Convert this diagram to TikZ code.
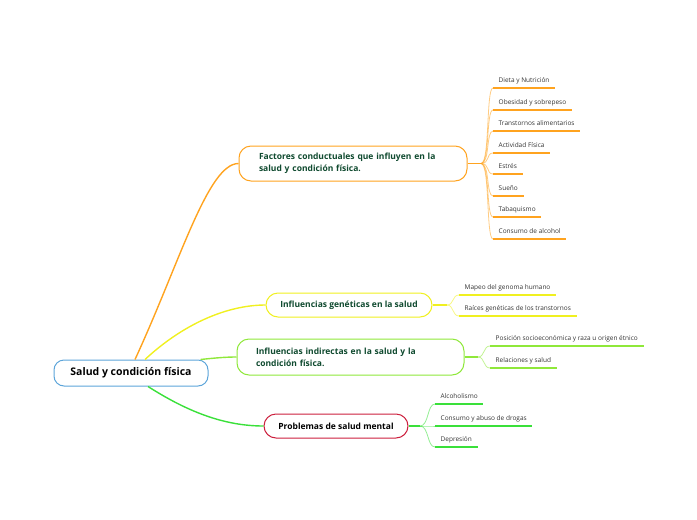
\documentclass[tikz,border=0pt]{standalone}
\usepackage{fontspec}
\setmainfont{Open Sans}
\usetikzlibrary{positioning}
\definecolor{rootblue}{HTML}{5DA5DA}
\definecolor{orangeb}{HTML}{FFA31F}
\definecolor{yellowb}{HTML}{F0F020}
\definecolor{limeb}{HTML}{8FE83A}
\definecolor{greenb}{HTML}{3AE03A}
\definecolor{redb}{HTML}{CC1F3D}
\definecolor{darkteal}{HTML}{0F4A2F}
\definecolor{leafgray}{HTML}{333333}

\begin{document}
\begin{tikzpicture}[x=1pt,y=-1pt,
  topic/.style={draw=#1,fill=white,line width=1pt,rounded corners=12pt,minimum height=24pt,
    font=\fontsize{8.5}{12}\selectfont\bfseries,text=darkteal},
  leaf/.style={anchor=south west,inner xsep=5.5pt,inner ysep=2.5pt,text depth=2.5pt,
    font=\fontsize{6.5}{7}\selectfont,text=leafgray,
    append after command={(\tikzlastnode.south west) edge[draw=#1,line width=1.6pt] (\tikzlastnode.south east)}},
  branch/.style={draw=#1,line width=1.4pt},
  twig/.style={draw=#1,draw opacity=0.55,line width=0.8pt}]
\useasboundingbox (0,0) rectangle (697,520);

% main topics
\node[draw=rootblue,fill=white,line width=1pt,rounded corners=10pt,minimum width=154pt,minimum height=26pt,
  font=\fontsize{10.5}{12}\selectfont\bfseries,text=black] (root) at (131,373) {Salud y condición física};
\node[topic=orangeb,text width=188pt,inner xsep=20pt,minimum height=35pt,align=left] (fac) at (353,163.5)
  {Factores conductuales que influyen en la\\salud y condición física.};
\node[topic=yellowb,minimum width=166pt] (gen) at (349,305) {Influencias genéticas en la salud};
\node[topic=limeb,text width=189pt,inner xsep=19pt,minimum height=36pt,align=left] (ind) at (350.5,357)
  {Influencias indirectas en la salud y la\\condición física.};
\node[topic=redb,minimum width=144pt,text=black] (pro) at (336,426) {Problemas de salud mental};

% branches from the root
\draw[branch=orangeb] ([xshift=4pt]root.north) .. controls (180,262) and (208,163.5) .. (fac.west);
\draw[branch=yellowb] ([xshift=14pt]root.north) .. controls (182,325) and (226,305) .. (gen.west);
\draw[branch=limeb] ([xshift=-8pt]root.north east) .. controls (215,358) and (225,357) .. (ind.west);
\draw[branch=greenb] ([xshift=17pt]root.south) .. controls (185,410) and (222,426) .. (pro.west);

% hubs
\coordinate (fhub) at (481,163.5);
\coordinate (ghub) at (447,305);
\coordinate (ihub) at (478,357);
\coordinate (phub) at (420,426);
\draw[branch=orangeb] (fac.east) -- (fhub);
\draw[branch=yellowb] (gen.east) -- (ghub);
\draw[branch=limeb] (ind.east) -- (ihub);
\draw[branch=greenb] (pro.east) -- (phub);

% leaves
\foreach \i/\y/\txt in {1/88/Dieta y Nutrición,2/110/Obesidad y sobrepeso,3/131/Transtornos alimentarios,
  4/153/Actividad Física,5/174/Estrés,6/196/Sueño,7/217/Tabaquismo,8/239/Consumo de alcohol}{
\node[leaf=orangeb] (f\i) at (493,\y) {\txt};
\draw[twig=orangeb] (fhub) .. controls (490,163.5) and (486,\y) .. (f\i.south west);}
\foreach \i/\y/\txt in {1/295/Mapeo del genoma humano,2/316/Raíces genéticas de los transtornos}{
\node[leaf=yellowb] (g\i) at (459,\y) {\txt};
\draw[twig=yellowb] (ghub) .. controls (454,305) and (452,\y) .. (g\i.south west);}
\foreach \i/\y/\txt in {1/346/Posición socioeconómica y raza u origen étnico,2/368/Relaciones y salud}{
\node[leaf=limeb] (i\i) at (490,\y) {\txt};
\draw[twig=limeb] (ihub) .. controls (485,357) and (483,\y) .. (i\i.south west);}
\foreach \i/\y/\txt in {1/404/Alcoholismo,2/426/Consumo y abuso de drogas,3/447/Depresión}{
\node[leaf=greenb] (p\i) at (435,\y) {\txt};
\draw[twig=greenb] (phub) .. controls (429,426) and (427,\y) .. (p\i.south west);}
\end{tikzpicture}
\end{document}
